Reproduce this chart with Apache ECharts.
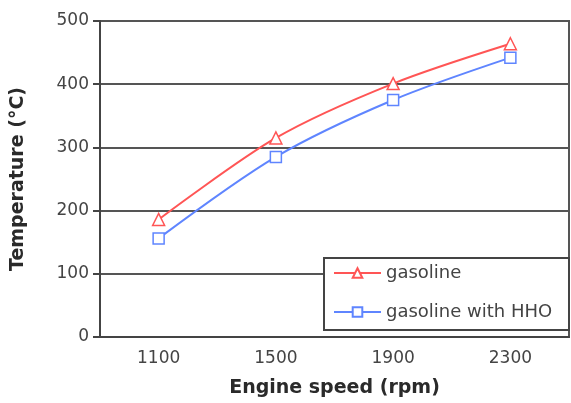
<!DOCTYPE html>
<html>
<head>
<meta charset="utf-8">
<script src="https://cdn.jsdelivr.net/npm/echarts@6/dist/echarts.min.js"></script>
<style>
html,body{margin:0;padding:0;background:#fff;}
#chart{width:571px;height:403px;}
</style>
</head>
<body>
<div id="chart"></div>
<script>
const categories = ['1100', '1500', '1900', '2300'];
const gasoline = [186, 315, 401, 464];
const gasolineHHO = [156, 285, 375, 442];
const yTicks = { min: 0, max: 500, interval: 100 };

const chart = echarts.init(document.getElementById('chart'));
const font = 'DejaVu Sans, Verdana, sans-serif';
chart.setOption({
  animation: false,
  backgroundColor: '#fff',
  grid: { left: 100, right: 2, top: 21, bottom: 66, show: true, borderColor: '#555', borderWidth: 2 },
  graphic: [{
    type: 'rect', left: 323, top: 257, z: 3,
    shape: { width: 245, height: 72 },
    style: { fill: '#fff', stroke: '#444', lineWidth: 2 }
  }],
  xAxis: {
    type: 'category',
    data: categories,
    name: 'Engine speed (rpm)',
    nameLocation: 'middle',
    nameGap: 42,
    nameTextStyle: { fontFamily: font, fontWeight: 'bold', fontSize: 19, color: '#2a2a2a' },
    axisLine: { lineStyle: { color: '#444', width: 2 } },
    axisTick: { length: 5, lineStyle: { color: '#444', width: 2 } },
    axisLabel: { fontFamily: font, fontSize: 17, color: '#444', margin: 13 }
  },
  yAxis: {
    type: 'value',
    min: yTicks.min, max: yTicks.max, interval: yTicks.interval,
    name: 'Temperature (°C)',
    nameLocation: 'middle',
    nameGap: 72,
    nameTextStyle: { fontFamily: font, fontWeight: 'bold', fontSize: 19, color: '#2a2a2a' },
    axisLine: { show: true, lineStyle: { color: '#444', width: 2 } },
    axisTick: { show: true, length: 7, lineStyle: { color: '#444', width: 2 } },
    axisLabel: { fontFamily: font, fontSize: 17, color: '#444', margin: 11 },
    splitLine: { lineStyle: { color: '#555', width: 2 } }
  },
  legend: {
    orient: 'vertical',
    left: 323, top: 257,
    padding: [7, 8, 9, 10],
    itemGap: 21,
    itemWidth: 47, itemHeight: 12,
    z: 5,
    textStyle: { fontFamily: font, fontSize: 18, color: '#444', lineHeight: 18 },
    data: ['gasoline', 'gasoline with HHO']
  },
  series: [
    {
      name: 'gasoline', type: 'line', data: gasoline, smooth: 0.3,
      symbol: 'triangle', symbolSize: 12,
      itemStyle: { color: '#fff', borderColor: '#ff5555', borderWidth: 1.5 },
      lineStyle: { color: '#ff5555', width: 2 },
      color: '#ff5555'
    },
    {
      name: 'gasoline with HHO', type: 'line', data: gasolineHHO, smooth: 0.3,
      symbol: 'rect', symbolSize: 11,
      itemStyle: { color: '#fff', borderColor: '#5f85ff', borderWidth: 1.5 },
      lineStyle: { color: '#5f85ff', width: 2 },
      color: '#5f85ff'
    }
  ]
});
</script>
</body>
</html>
